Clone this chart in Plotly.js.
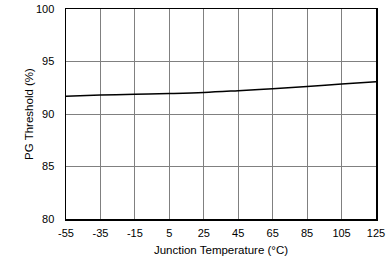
<!DOCTYPE html>
<html>
<head>
<meta charset="utf-8">
<script src="https://cdn.plot.ly/plotly-3.0.1.min.js"></script>
<style>html,body{margin:0;padding:0;background:#fff;}#chart{width:390px;height:260px;}</style>
</head>
<body>
<div id="chart"></div>
<script>
var temperature = [-55, -35, -15, 5, 25, 45, 65, 85, 105, 125];
var pgThreshold = [91.69, 91.8, 91.88, 91.95, 92.05, 92.22, 92.41, 92.62, 92.86, 93.08];
var xTicks = [-55, -35, -15, 5, 25, 45, 65, 85, 105, 125];
var yTicks = [80, 85, 90, 95, 100];

var trace = {
  x: temperature, y: pgThreshold, type: 'scatter', mode: 'lines',
  line: {color: '#000000', width: 1.5, shape: 'spline'}, hoverinfo: 'none'
};
var layout = {
  width: 390, height: 260,
  margin: {l: 66, r: 14, t: 9, b: 41},
  paper_bgcolor: '#ffffff', plot_bgcolor: '#ffffff',
  showlegend: false,
  font: {family: 'Liberation Sans, Arial, sans-serif', size: 11, color: '#000000'},
  xaxis: {
    range: [-55, 125], tickvals: xTicks, ticktext: xTicks.map(String),
    showgrid: true, gridcolor: '#808080', gridwidth: 1,
    showline: true, linecolor: '#000000', linewidth: 1.5, mirror: true,
    zeroline: false, ticks: 'outside', ticklen: 3, tickcolor: 'rgba(0,0,0,0)',
    title: {text: 'Junction Temperature (°C)', standoff: 8, font: {size: 11.5}}
  },
  yaxis: {
    range: [80, 100], tickvals: yTicks, ticktext: yTicks.map(String),
    showgrid: true, gridcolor: '#808080', gridwidth: 1,
    showline: true, linecolor: '#000000', linewidth: 1.5, mirror: true,
    zeroline: false, ticks: 'outside', ticklen: 8, tickcolor: 'rgba(0,0,0,0)',
    title: {text: 'PG Threshold (%)', standoff: 0, font: {size: 11.5}}
  }
};
Plotly.newPlot('chart', [trace], layout, {staticPlot: true, displayModeBar: false});
</script>
</body>
</html>
